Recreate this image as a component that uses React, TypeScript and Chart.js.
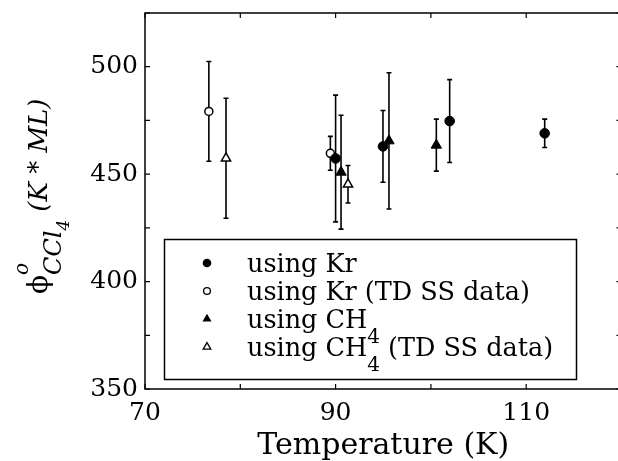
import React, { useEffect, useRef } from 'react';
import { Chart, registerables } from 'chart.js';

Chart.register(...registerables);

// ---- data ----
const krT = [90.0, 94.97, 101.97, 111.94];
const krVal = [457.3, 462.9, 474.7, 469.0];
const krErr = [29.5, 16.7, 19.3, 6.6];

const krTdT = [76.7, 89.45];
const krTdVal = [479.2, 459.7];
const krTdErr = [23.2, 7.9];

const ch4T = [90.57, 95.6, 100.57];
const ch4Val = [450.9, 465.5, 463.5];
const ch4Err = [26.5, 31.7, 12.1];

const ch4TdT = [78.5, 91.3];
const ch4TdVal = [457.4, 445.3];
const ch4TdErr = [27.9, 8.7];

const seriesLabels = ['using Kr', 'using Kr (TD SS data)', 'using CH_4', 'using CH_4 (TD SS data)'];
const xTickLabels = [70, 90, 110];
const yTickLabels = [350, 400, 450, 500];
const xTitle = 'Temperature (K)';

const FONT = "'DejaVu Serif', serif";

const pts = (xs: number[], ys: number[]) => xs.map((x, i) => ({ x, y: ys[i] }));

const errorBarPlugin = {
  id: 'errorBars',
  beforeDatasetsDraw(chart: any) {
    const { ctx, scales } = chart;
    ctx.save();
    ctx.strokeStyle = '#000';
    ctx.lineWidth = 1.6;
    chart.data.datasets.forEach((ds: any) => {
      ds.data.forEach((p: any, i: number) => {
        const e = ds.err[i];
        const px = scales.x.getPixelForValue(p.x);
        const y1 = scales.y.getPixelForValue(p.y - e);
        const y2 = scales.y.getPixelForValue(p.y + e);
        ctx.beginPath();
        ctx.moveTo(px, y1);
        ctx.lineTo(px, y2);
        ctx.moveTo(px - 2.5, y1);
        ctx.lineTo(px + 2.5, y1);
        ctx.moveTo(px - 2.5, y2);
        ctx.lineTo(px + 2.5, y2);
        ctx.stroke();
      });
    });
    ctx.restore();
  },
};

const framePlugin = {
  id: 'frame',
  afterDraw(chart: any) {
    const { ctx, chartArea: a, scales } = chart;
    ctx.save();
    ctx.strokeStyle = '#000';
    ctx.lineWidth = 1.5;
    ctx.strokeRect(a.left, a.top, a.right - a.left, a.bottom - a.top);
    ctx.lineWidth = 1.2;
    const L = 5;
    ctx.beginPath();
    scales.x.ticks.forEach((t: any) => {
      const px = scales.x.getPixelForValue(t.value);
      ctx.moveTo(px, a.bottom);
      ctx.lineTo(px, a.bottom - L);
      ctx.moveTo(px, a.top);
      ctx.lineTo(px, a.top + L);
    });
    scales.y.ticks.forEach((t: any) => {
      const py = scales.y.getPixelForValue(t.value);
      ctx.moveTo(a.left, py);
      ctx.lineTo(a.left + L, py);
      ctx.moveTo(a.right, py);
      ctx.lineTo(a.right - L, py);
    });
    ctx.stroke();

    // x title
    ctx.fillStyle = '#000';
    ctx.font = `30px ${FONT}`;
    ctx.textAlign = 'center';
    ctx.textBaseline = 'alphabetic';
    ctx.fillText(xTitle, (a.left + a.right) / 2, 454);

    // y title (rotated)
    ctx.translate(47, 294);
    ctx.rotate(-Math.PI / 2);
    ctx.textAlign = 'left';
    let u = 0;
    ctx.font = `28px ${FONT}`;
    ctx.fillText('\u03D5', u, 0);
    u += ctx.measureText('\u03D5').width;
    ctx.font = `italic 20px ${FONT}`;
    ctx.fillText('o', u, -19);
    ctx.font = `italic 24px ${FONT}`;
    ctx.fillText('CCl', u, 14);
    u += ctx.measureText('CCl').width;
    ctx.font = `italic 17px ${FONT}`;
    ctx.fillText('4', u, 22);
    u += ctx.measureText('4').width + 8;
    ctx.font = `italic 26px ${FONT}`;
    ctx.fillText('(K * ML)', u, 0);
    ctx.restore();
  },
};

function drawMarker(ctx: CanvasRenderingContext2D, kind: number, x: number, y: number) {
  ctx.save();
  ctx.strokeStyle = '#000';
  ctx.fillStyle = '#000';
  ctx.lineWidth = 1.3;
  ctx.beginPath();
  if (kind === 0) {
    ctx.arc(x, y, 4.3, 0, Math.PI * 2);
    ctx.fill();
  } else if (kind === 1) {
    ctx.arc(x, y, 3.4, 0, Math.PI * 2);
    ctx.stroke();
  } else {
    const r = kind === 2 ? 5.2 : 4.4;
    ctx.moveTo(x, y - r);
    ctx.lineTo(x + r * 0.866, y + r * 0.5);
    ctx.lineTo(x - r * 0.866, y + r * 0.5);
    ctx.closePath();
    if (kind === 2) ctx.fill();
    else ctx.stroke();
  }
  ctx.restore();
}

const legendPlugin = {
  id: 'texLegend',
  afterDraw(chart: any) {
    const { ctx } = chart;
    ctx.save();
    ctx.fillStyle = '#fff';
    ctx.fillRect(164.5, 239.5, 412, 140);
    ctx.strokeStyle = '#000';
    ctx.lineWidth = 1.5;
    ctx.strokeRect(164.5, 239.5, 412, 140);
    chart.data.datasets.forEach((ds: any, i: number) => {
      const base = 272 + i * 28;
      drawMarker(ctx, i, 207, base - 9);
      ctx.fillStyle = '#000';
      ctx.textAlign = 'left';
      ctx.textBaseline = 'alphabetic';
      const parts = String(ds.label).split('_');
      let x = 247;
      parts.forEach((part: string, j: number) => {
        if (j === 0) {
          ctx.font = `25.5px ${FONT}`;
          ctx.fillText(part, x, base);
          x += ctx.measureText(part).width;
        } else {
          ctx.font = `20px ${FONT}`;
          const sub = part.charAt(0);
          ctx.fillText(sub, x, base + 15);
          x += ctx.measureText(sub).width;
          const rest = part.slice(1);
          ctx.font = `25.5px ${FONT}`;
          ctx.fillText(rest, x, base);
          x += ctx.measureText(rest).width;
        }
      });
    });
    ctx.restore();
  },
};

export default function App() {
  const ref = useRef<HTMLCanvasElement | null>(null);
  useEffect(() => {
    if (!ref.current) return;
    const chart = new Chart(ref.current, {
      type: 'scatter',
      data: {
        datasets: [
          {
            label: seriesLabels[0],
            data: pts(krT, krVal),
            err: krErr,
            pointStyle: 'circle',
            pointRadius: 4.8,
            backgroundColor: '#000',
            borderColor: '#000',
            borderWidth: 1,
          } as any,
          {
            label: seriesLabels[1],
            data: pts(krTdT, krTdVal),
            err: krTdErr,
            pointStyle: 'circle',
            pointRadius: 4,
            backgroundColor: '#fff',
            borderColor: '#000',
            borderWidth: 1.5,
          } as any,
          {
            label: seriesLabels[2],
            data: pts(ch4T, ch4Val),
            err: ch4Err,
            pointStyle: 'triangle',
            pointRadius: 6,
            backgroundColor: '#000',
            borderColor: '#000',
            borderWidth: 1,
          } as any,
          {
            label: seriesLabels[3],
            data: pts(ch4TdT, ch4TdVal),
            err: ch4TdErr,
            pointStyle: 'triangle',
            pointRadius: 5.3,
            backgroundColor: '#fff',
            borderColor: '#000',
            borderWidth: 1.5,
          } as any,
        ],
      },
      options: {
        animation: false,
        responsive: false,
        devicePixelRatio: 1,
        events: [],
        layout: { padding: { left: 0, top: 13, right: 18.5, bottom: 0 } },
        plugins: { legend: { display: false }, tooltip: { enabled: false } },
        scales: {
          x: {
            type: 'linear',
            min: 70,
            max: 120,
            afterFit: (s: any) => { s.height = 72; s.paddingRight = 0; s.paddingLeft = 0; },
            grid: { display: false, drawTicks: false },
            border: { display: false },
            ticks: {
              stepSize: 10,
              padding: 9,
              color: '#000',
              font: { family: FONT, size: 25 },
              maxRotation: 0,
              autoSkip: false,
              callback: (v: any) => (xTickLabels.includes(Number(v)) ? String(v) : ''),
            },
          },
          y: {
            type: 'linear',
            min: 350,
            max: 525,
            afterFit: (s: any) => { s.width = 145; s.paddingTop = 0; s.paddingBottom = 0; },
            grid: { display: false, drawTicks: false },
            border: { display: false },
            ticks: {
              stepSize: 25,
              padding: 7,
              color: '#000',
              font: { family: FONT, size: 25 },
              autoSkip: false,
              callback: (v: any) => (yTickLabels.includes(Number(v)) ? String(v) : ''),
            },
          },
        },
      },
      plugins: [errorBarPlugin, framePlugin, legendPlugin],
    } as any);
    return () => chart.destroy();
  }, []);
  return (
    <div style={{ position: 'absolute', left: 0, top: 0, width: 618, height: 461, overflow: 'hidden', background: '#fff' }}>
      <canvas ref={ref} width={640} height={461} style={{ width: 640, height: 461, display: 'block' }} />
    </div>
  );
}
